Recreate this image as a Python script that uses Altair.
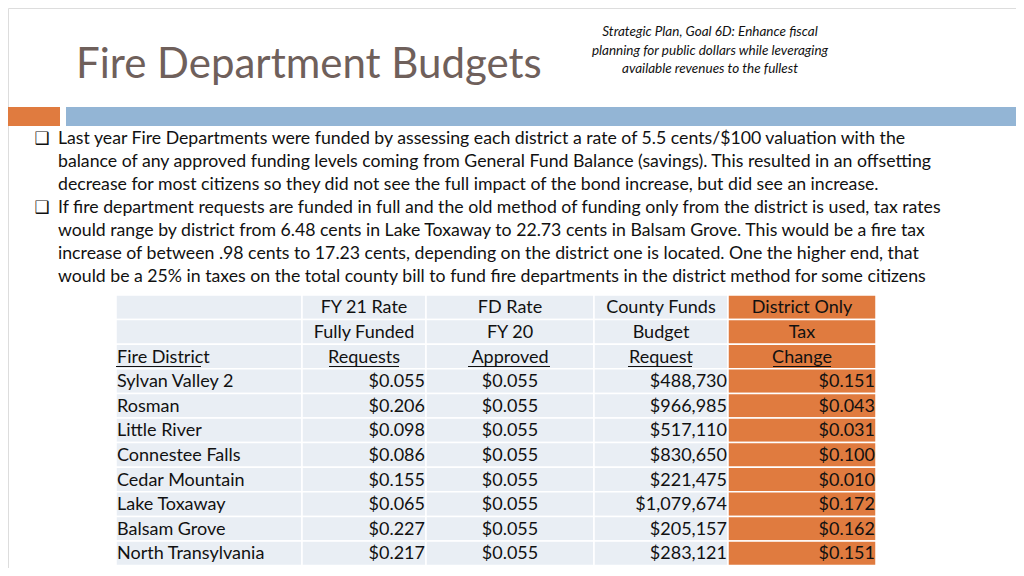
import altair as alt
import pandas as pd

# ---------------- data ----------------
title_text = ["Fire Department Budgets"]
subtitle_lines = [
    "Strategic Plan, Goal 6D:  Enhance fiscal",
    "planning for public dollars while leveraging",
    "available revenues to the fullest",
]
bullet_lines = [
    "Last year Fire Departments were funded by assessing each district a rate of 5.5 cents/$100 valuation with the",
    "balance of any approved funding levels coming from General Fund Balance (savings).  This resulted in an offsetting",
    "decrease for most citizens so they did not see the full impact of the bond increase, but did see an increase.",
    "If fire department requests are funded in full and the old method of funding only from the district is used, tax rates",
    "would range by district from 6.48 cents in Lake Toxaway to 22.73 cents in Balsam Grove.  This would be a fire tax",
    "increase of between .98 cents to 17.23 cents, depending on the district one is located.  One the higher end, that",
    "would be a 25% in taxes on the total county bill to fund fire departments in the district method for some citizens",
]
bullet_marker_lines = [0, 3]

header_row1 = ["", "FY 21 Rate", "FD Rate", "County Funds", "District Only"]
header_row2 = ["", "Fully Funded", "FY 20", "Budget", "Tax"]
header_row3 = ["Fire District", " Requests", " Approved", " Request", "Change"]

districts = ["Sylvan Valley 2", "Rosman", "Little River", "Connestee Falls",
             "Cedar Mountain", "Lake Toxaway", "Balsam Grove", "North Transylvania"]
fy21_rate_requests = [0.055, 0.206, 0.098, 0.086, 0.155, 0.065, 0.227, 0.217]
fd_rate_fy20_approved = [0.055, 0.055, 0.055, 0.055, 0.055, 0.055, 0.055, 0.055]
county_funds_budget_request = [488730, 966985, 517110, 830650, 221475, 1079674, 205157, 283121]
district_only_tax_change = [0.151, 0.043, 0.031, 0.100, 0.010, 0.172, 0.162, 0.151]

# ---------------- layout / style ----------------
W, H = 1008, 560
ORANGE = "#E07B3F"
BLUE = "#93B5D5"
CELL = "#E9EEF4"
TITLE_COLOR = "#6F605B"
TXT = "#111111"

col_edges = [116, 302, 426, 594, 728, 876]
row_top, row_h, n_rows = 295, 24.6, 11
text_dy = 1.0
header_center = [None, 364, 510, 661, 802]
data_anchor = [(117, "left"), (425, "right"), (510, "center"), (727, "right"), (875, "right")]
underline_span = [(116, 201), (329, 399), (468, 550), (628, 692), (773, 831)]

X = alt.Scale(domain=[8, 8 + W], nice=False, zero=False)
Y = alt.Scale(domain=[8, 8 + H], nice=False, zero=False, reverse=True)


def xq(f):
    return alt.X(f"{f}:Q", scale=X, axis=None)


def yq(f):
    return alt.Y(f"{f}:Q", scale=Y, axis=None)


# ---------------- banner ----------------
banner = pd.DataFrame({
    "x": [8, 66], "x2": [60, 8 + W], "y": [107, 107], "y2": [126, 126],
    "c": [ORANGE, BLUE],
})
banner_layer = alt.Chart(banner).mark_rect().encode(
    x=xq("x"), x2="x2", y=yq("y"), y2="y2", color=alt.Color("c:N", scale=None)
)

title_layer = alt.Chart(pd.DataFrame({"t": title_text, "x": [76], "y": [78]})).mark_text(
    align="left", baseline="alphabetic", font="Lato", fontSize=42, color=TITLE_COLOR
).encode(x=xq("x"), y=yq("y"), text="t:N")

sub_df = pd.DataFrame({"t": subtitle_lines, "x": [710] * 3,
                       "y": [32 + 18.5 * i for i in range(3)]})
sub_layer = alt.Chart(sub_df).mark_text(
    align="center", baseline="middle", font="Lato", fontSize=13.5, fontStyle="italic", color=TXT
).encode(x=xq("x"), y=yq("y"), text="t:N")

# ---------------- bullets ----------------
bl_df = pd.DataFrame({"t": bullet_lines, "x": [58] * len(bullet_lines),
                      "y": [139 + 23 * i for i in range(len(bullet_lines))]})
bl_layer = alt.Chart(bl_df).mark_text(
    align="left", baseline="middle", font="Lato", fontSize=17.7, color=TXT
).encode(x=xq("x"), y=yq("y"), text="t:N")

mk_df = pd.DataFrame({"t": ["\u2751"] * len(bullet_marker_lines), "x": [42] * len(bullet_marker_lines),
                      "y": [138.5 + 23 * i for i in bullet_marker_lines]})
mk_layer = alt.Chart(mk_df).mark_text(
    align="center", baseline="middle", font="DejaVu Sans", fontSize=17, fontWeight="bold", color=TXT
).encode(x=xq("x"), y=yq("y"), text="t:N")

# ---------------- table cells ----------------
cells = []
for r in range(n_rows):
    for c in range(5):
        cells.append({
            "x": col_edges[c], "x2": col_edges[c + 1],
            "y": row_top + r * row_h, "y2": row_top + (r + 1) * row_h,
            "c": ORANGE if c == 4 else CELL,
        })
cell_layer = alt.Chart(pd.DataFrame(cells)).mark_rect(stroke="white", strokeWidth=1.5).encode(
    x=xq("x"), x2="x2", y=yq("y"), y2="y2", color=alt.Color("c:N", scale=None)
)


def row_mid(r):
    return row_top + r * row_h + row_h / 2 + text_dy


texts = {"left": [], "center": [], "right": []}
for r, hdr in enumerate([header_row1, header_row2, header_row3]):
    for c, t in enumerate(hdr):
        if not t:
            continue
        if c == 0:
            texts["left"].append({"t": t, "x": 117, "y": row_mid(r)})
        else:
            texts["center"].append({"t": t, "x": header_center[c], "y": row_mid(r)})

for i, d in enumerate(districts):
    vals = [d,
            f"${fy21_rate_requests[i]:.3f}",
            f"${fd_rate_fy20_approved[i]:.3f}",
            f"${county_funds_budget_request[i]:,}",
            f"${district_only_tax_change[i]:.3f}"]
    for c, v in enumerate(vals):
        ax, al = data_anchor[c]
        texts[al].append({"t": v, "x": ax, "y": row_mid(3 + i)})

text_layers = []
for al, rows in texts.items():
    text_layers.append(
        alt.Chart(pd.DataFrame(rows)).mark_text(
            align=al, baseline="middle", font="Lato", fontSize=18, color=TXT
        ).encode(x=xq("x"), y=yq("y"), text="t:N")
    )

ul_df = pd.DataFrame({"x": [a for a, b in underline_span], "x2": [b for a, b in underline_span],
                      "y": [row_mid(2) + 9] * 5})
ul_layer = alt.Chart(ul_df).mark_rule(color=TXT, strokeWidth=1.2).encode(
    x=xq("x"), x2="x2", y=yq("y")
)

chart = alt.layer(
    banner_layer, title_layer, sub_layer, bl_layer, mk_layer, cell_layer, *text_layers, ul_layer
).properties(
    width=W, height=H, padding=0,
    autosize=alt.AutoSizeParams(type="none"),
).configure_view(stroke=None, clip=True).configure(background="white")

chart.save("out.html", embed_options={"renderer": "svg", "actions": False})
